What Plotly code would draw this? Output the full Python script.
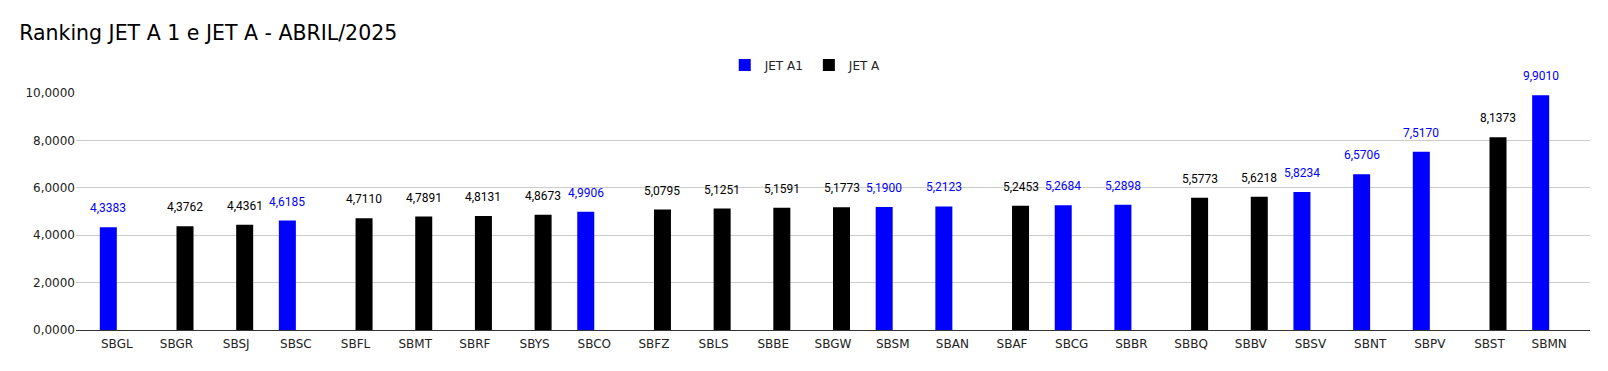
import plotly.graph_objects as go

categories = ["SBGL", "SBGR", "SBSJ", "SBSC", "SBFL", "SBMT", "SBRF", "SBYS", "SBCO",
              "SBFZ", "SBLS", "SBBE", "SBGW", "SBSM", "SBAN", "SBAF", "SBCG", "SBBR",
              "SBBQ", "SBBV", "SBSV", "SBNT", "SBPV", "SBST", "SBMN"]
jet_a1 = [4.3383, None, None, 4.6185, None, None, None, None, 4.9906,
          None, None, None, None, 5.1900, 5.2123, None, 5.2684, 5.2898,
          None, None, 5.8234, 6.5706, 7.5170, None, 9.9010]
jet_a = [None, 4.3762, 4.4361, None, 4.7110, 4.7891, 4.8131, 4.8673, None,
         5.0795, 5.1251, 5.1591, 5.1773, None, None, 5.2453, None, None,
         5.5773, 5.6218, None, None, None, 8.1373, None]
y_ticks = [0, 2, 4, 6, 8, 10]

BLUE = "#0000ff"
BLACK = "#000000"

def fmt(v):
    return f"{v:.4f}".replace(".", ",")

fig = go.Figure()
fig.add_trace(go.Bar(name="JET A1", x=categories, y=jet_a1, marker_color=BLUE,
                     marker_line_width=0))
fig.add_trace(go.Bar(name="JET A", x=categories, y=jet_a, marker_color=BLACK,
                     marker_line_width=0))

annotations = []
for c, v in zip(categories, jet_a1):
    if v is not None:
        annotations.append(dict(x=c, y=v, text=fmt(v), showarrow=False, xref="x", yref="y",
                                yanchor="bottom", yshift=10, xshift=-8.5,
                                font=dict(color=BLUE, size=12, family="Roboto")))
for c, v in zip(categories, jet_a):
    if v is not None:
        annotations.append(dict(x=c, y=v, text=fmt(v), showarrow=False, xref="x", yref="y",
                                yanchor="bottom", yshift=10, xshift=8.5,
                                font=dict(color=BLACK, size=12, family="Roboto")))

fig.update_layout(
    width=1600, height=363,
    margin=dict(l=68, r=18, t=85, b=41),
    paper_bgcolor="white", plot_bgcolor="white",
    barmode="group", bargap=0.43, bargroupgap=0,
    separators=",.",
    title=dict(text="Ranking JET A 1 e JET A - ABRIL/2025", x=0.007, xanchor="left",
               y=0.931, yanchor="middle",
               font=dict(family="DejaVu Sans", size=20.5, color="#000000")),
    legend=dict(orientation="h", x=0.482, xanchor="center", y=1.118, yanchor="middle",
                font=dict(family="DejaVu Sans", size=12, color="#222222"),
                itemwidth=30, traceorder="normal"),
    font=dict(family="DejaVu Sans", size=12, color="#222222"),
    annotations=annotations,
    xaxis=dict(showgrid=False, showline=True, linecolor="#333333", linewidth=1.3,
               range=[-0.684, 24.684], ticks="", ticklabelstandoff=2,
               tickfont=dict(family="DejaVu Sans", size=12, color="#222222")),
    yaxis=dict(range=[0, 10], tickvals=y_ticks, tickformat=".4f", showgrid=True,
               gridcolor="#cccccc", gridwidth=1, zeroline=False, ticks="",
               tickfont=dict(family="DejaVu Sans", size=12, color="#222222")),
)

fig.write_html("out.html")
